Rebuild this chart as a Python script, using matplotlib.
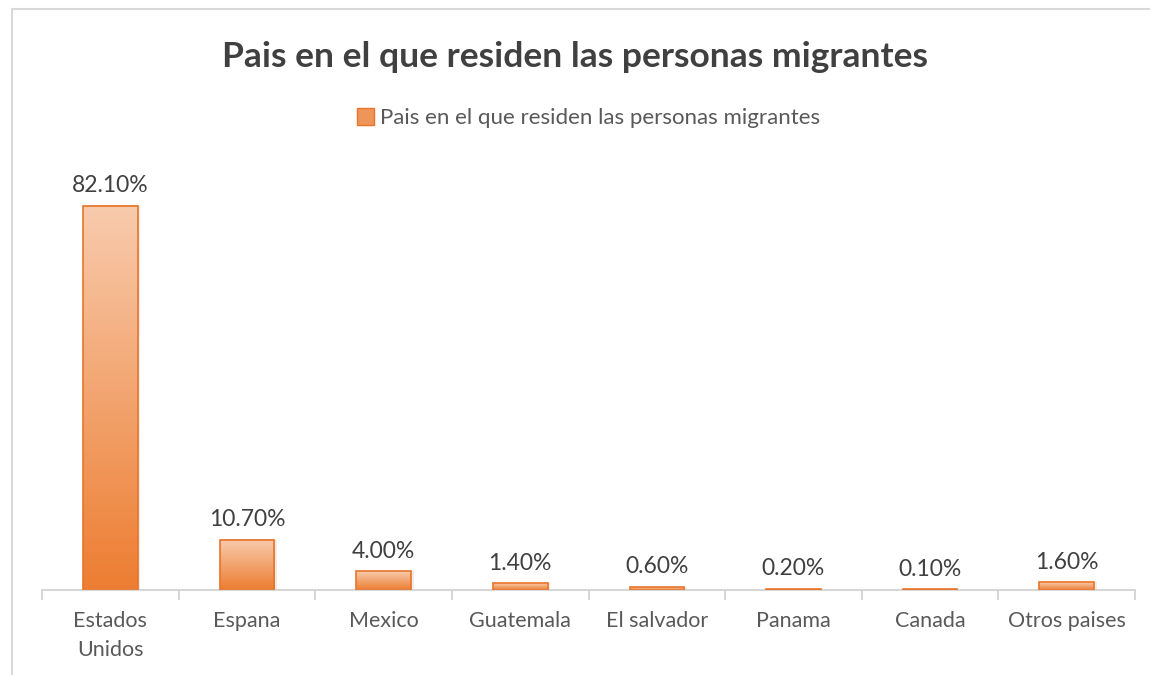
import numpy as np
import matplotlib.pyplot as plt
from matplotlib.colors import LinearSegmentedColormap
from matplotlib.lines import Line2D
from matplotlib.patches import Rectangle

plt.rcParams['font.family'] = ['Lato', 'DejaVu Sans']

# data
categories = ['Estados\nUnidos', 'Espana', 'Mexico', 'Guatemala', 'El salvador',
              'Panama', 'Canada', 'Otros paises']
values = [82.1, 10.7, 4.0, 1.4, 0.6, 0.2, 0.1, 1.6]
series_name = 'Pais en el que residen las personas migrantes'

fig = plt.figure(figsize=(11.5, 6.75), dpi=100)
ax = fig.add_axes([0.0365, 0.126, 0.9505, 0.624])

x = np.arange(len(categories))
width = 0.4

# orange gradient, light at top, dark at bottom
grad = LinearSegmentedColormap.from_list('og', ['#ed7d31', '#f8cbad'])
bars = ax.bar(x, values, width, color='none', edgecolor='#e8742a', linewidth=1.2, zorder=3)
g = np.linspace(0, 1, 256).reshape(-1, 1)
for b in bars:
    x0, y0 = b.get_x(), b.get_y()
    w, h = b.get_width(), b.get_height()
    # soft shadow
    ax.add_patch(Rectangle((x0 + 0.02, y0), w, h, color='#d9c8bf', alpha=0.35, lw=0, zorder=1))
    ax.imshow(g, cmap=grad, aspect='auto', origin='lower',
              extent=(x0, x0 + w, y0, y0 + h), zorder=2)

for xi, v in zip(x, values):
    ax.annotate(f'{v:.2f}%', (xi, v), xytext=(0, 7), textcoords='offset points',
                ha='center', va='bottom', fontsize=16.5, color='#404040')

ax.set_xlim(-0.5, len(categories) - 0.5)
ax.set_ylim(0, 90)
ax.set_xticks(x)
ax.set_xticklabels(categories, fontsize=15.5, color='#595959', linespacing=1.55)
ax.set_xticks(np.arange(-0.5, len(categories)), minor=True)
ax.tick_params(axis='x', which='major', length=0, pad=15)
ax.tick_params(axis='x', which='minor', length=7, color='#d0d0d0', width=1.2)
ax.set_yticks([])
for s in ['top', 'right', 'left']:
    ax.spines[s].set_visible(False)
ax.spines['bottom'].set_color('#d0d0d0')
ax.spines['bottom'].set_linewidth(1.2)

fig.text(0.5, 0.915, series_name, ha='center', va='center', fontsize=25.5,
         fontweight='bold', color='#404040')

handle = Rectangle((0, 0), 1, 1, facecolor='#f0955a', edgecolor='#e8742a')
fig.legend([handle], [series_name], loc='center', bbox_to_anchor=(0.512, 0.825),
           frameon=False, fontsize=16, labelcolor='#595959', handlelength=0.75,
           handleheight=0.75, handletextpad=0.3)

# chart frame (cropped screenshot)
fig.add_artist(Line2D([0.0105, 0.0105], [0, 0.986], color='#d9d9d9', lw=1.5))
fig.add_artist(Line2D([0.0105, 1.0], [0.986, 0.986], color='#d9d9d9', lw=1.5))

fig.savefig('out.png', dpi=100)
